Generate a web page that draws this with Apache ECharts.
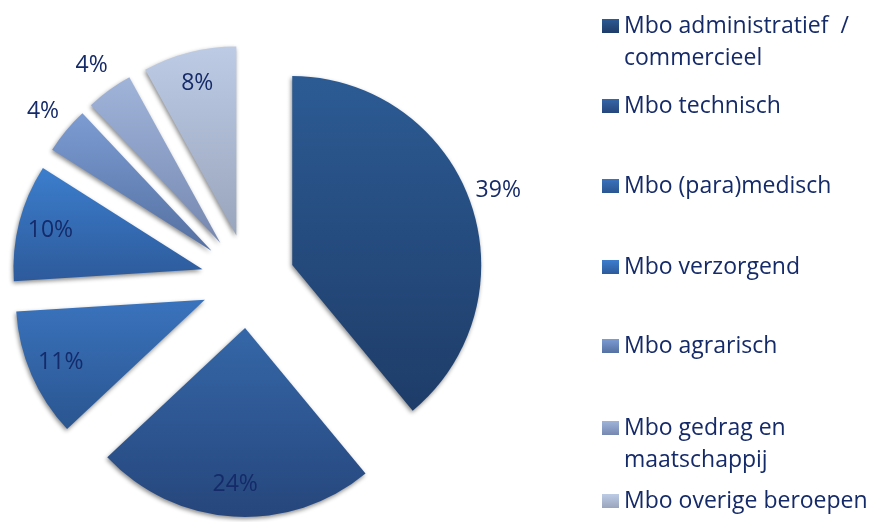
<!DOCTYPE html>
<html>
<head>
<meta charset="utf-8">
<script src="https://cdn.jsdelivr.net/npm/echarts@6/dist/echarts.min.js"></script>
<style>html,body{margin:0;padding:0;background:#fff}#c{width:875px;height:522px}</style>
</head>
<body>
<div id="c"></div>
<script>
// Data
const categories = [
  'Mbo administratief  /\ncommercieel',
  'Mbo technisch',
  'Mbo (para)medisch',
  'Mbo verzorgend',
  'Mbo agrarisch',
  'Mbo gedrag en\nmaatschappij',
  'Mbo overige beroepen'
];
const values = [39, 24, 11, 10, 4, 4, 8];
const valueLabels = ['39%', '24%', '11%', '10%', '4%', '4%', '8%'];
const labelOutside = [true, false, false, false, true, true, false];

// Styles
const topColors = ['#2c5b94', '#3567a8', '#3a73bd', '#3c7ecd', '#7c9cd2', '#a0b4da', '#bdcbe5'];
const bottomColors = ['#1e3c68', '#26467c', '#2a5590', '#2d5a9b', '#5570a2', '#7688b0', '#99a5bc'];
const textColor = '#152a69';
const FONT = '"Open Sans", sans-serif';

const C = [248, 281], R = 189, OFF = 47;

function grad(i) {
  return {type: 'linear', x: 0, y: 0, x2: 0, y2: 1,
    colorStops: [{offset: 0, color: topColors[i]}, {offset: 1, color: bottomColors[i]}]};
}

const mainData = categories.map((n, i) => ({
  name: n, value: values[i], selected: true,
  itemStyle: {color: grad(i)}
}));

function labelData(outside) {
  return categories.map((n, i) => ({
    name: n, value: values[i], selected: true,
    label: {show: labelOutside[i] === outside, formatter: valueLabels[i]}
  }));
}

const baseLabelSeries = {
  type: 'pie', center: C, startAngle: 90, clockwise: true,
  selectedMode: 'multiple', selectedOffset: OFF, silent: true,
  avoidLabelOverlap: false, legendHoverLink: false,
  itemStyle: {color: 'rgba(0,0,0,0)', borderWidth: 0},
  labelLine: {show: false},
  emphasis: {disabled: true}
};

const labelStyle = {position: 'inside', color: textColor, fontSize: 23, fontFamily: FONT, rotate: 0};

// Legends: one component per item so positions match
const legendTops = [-22, 90, 170, 251, 330, 380, 485];
const legends = categories.map((n, i) => {
  const twoLine = n.indexOf('\n') >= 0;
  return {
    data: [{name: n, icon: 'rect'}], orient: 'vertical', left: 602, top: legendTops[i], padding: 0,
    itemWidth: 17, itemHeight: 14, itemGap: 0,
    selectedMode: false,
    formatter: twoLine ? '\n' + n : n,
    textStyle: {color: textColor, fontSize: 23, fontFamily: FONT, lineHeight: 32, padding: [0, 0, 0, 0]}
  };
});

const chart = echarts.init(document.getElementById('c'), null, {renderer: 'canvas'});
chart.setOption({
  animation: false,
  backgroundColor: '#ffffff',
  legend: legends,
  series: [
    {
      type: 'pie', name: 'main', center: C, radius: R, startAngle: 90, clockwise: true,
      selectedMode: 'multiple', selectedOffset: OFF,
      avoidLabelOverlap: false,
      label: {show: false}, labelLine: {show: false},
      itemStyle: {shadowBlur: 4, shadowColor: 'rgba(0,0,0,0.45)', shadowOffsetX: -1, shadowOffsetY: 2, borderWidth: 0},
      emphasis: {disabled: true},
      data: mainData
    },
    Object.assign({}, baseLabelSeries, {name: 'inLabels', radius: [119, R], label: labelStyle, data: labelData(false)}),
    Object.assign({}, baseLabelSeries, {name: 'outLabels', radius: [R, 243], label: labelStyle, data: labelData(true)})
  ]
});
</script>
</body>
</html>
